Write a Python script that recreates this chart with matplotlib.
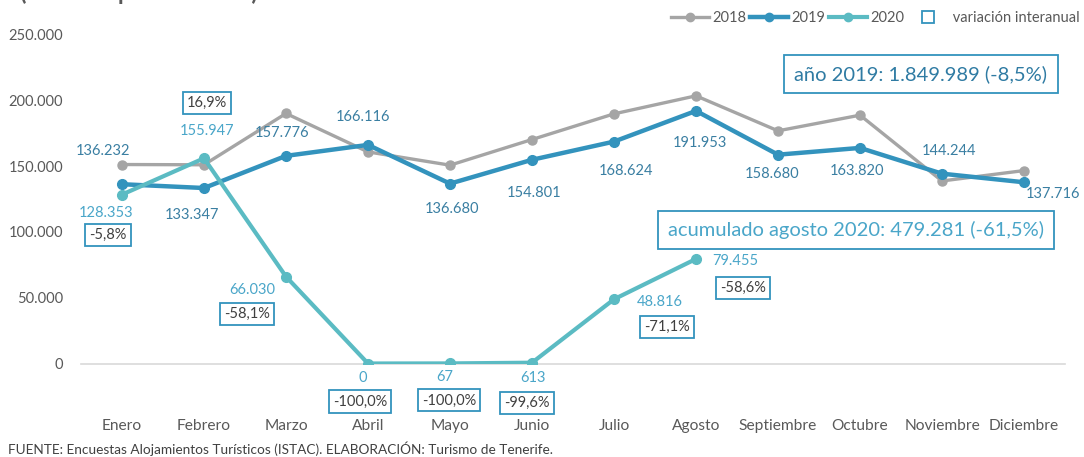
import matplotlib
matplotlib.use('Agg')
import matplotlib.pyplot as plt
from matplotlib.lines import Line2D
from matplotlib.ticker import FuncFormatter

plt.rcParams['font.family'] = ['Lato', 'DejaVu Sans']

# data
meses = ['Enero', 'Febrero', 'Marzo', 'Abril', 'Mayo', 'Junio', 'Julio',
         'Agosto', 'Septiembre', 'Octubre', 'Noviembre', 'Diciembre']
v2018 = [151200, 151000, 190000, 160800, 150700, 170200, 189700, 203400,
         176800, 188700, 138700, 146600]
v2019 = [136232, 133347, 157776, 166116, 136680, 154801, 168624, 191953,
         158680, 163820, 144244, 137716]
v2020 = [128353, 155947, 66030, 0, 67, 613, 48816, 79455]
variacion = ['-5,8%', '16,9%', '-58,1%', '-100,0%', '-100,0%', '-99,6%',
             '-71,1%', '-58,6%']
total_2019 = 'año 2019: 1.849.989 (-8,5%)'
acum_2020 = 'acumulado agosto 2020: 479.281 (-61,5%)'

c18 = '#A5A5A5'
c19 = '#3393BD'
c20 = '#5BBBC3'
lab19 = '#3A7FA2'
lab20 = '#4AA6C9'
txt = '#404040'
grey = '#595959'


def miles(v, pos=None):
    return f'{int(v):,}'.replace(',', '.')


fig = plt.figure(figsize=(10.84, 4.57), dpi=100)
ax = fig.add_axes([81 / 1084, 1 - 363.5 / 457, 984 / 1084, 329 / 457])

x = list(range(12))
ax.plot(x, v2018, color=c18, lw=2.4, marker='o', ms=6.5, zorder=2)
ax.plot(x, v2019, color=c19, lw=3.2, marker='o', ms=7, zorder=3)
ax.plot(x[:len(v2020)], v2020, color=c20, lw=3, marker='o', ms=7, zorder=4)

ax.set_xlim(-0.5, 11.5)
ax.set_ylim(0, 250000)
ax.set_yticks(range(0, 250001, 50000))
ax.yaxis.set_major_formatter(FuncFormatter(miles))
ax.set_xticks(x)
ax.set_xticklabels(meses)
ax.tick_params(axis='both', length=0, colors=grey, labelsize=10.5)
ax.tick_params(axis='x', pad=40, labelsize=11.2)
ax.tick_params(axis='y', pad=13)
for s in ['top', 'right', 'left']:
    ax.spines[s].set_visible(False)
ax.spines['bottom'].set_color('#D9D9D9')
ax.spines['bottom'].set_linewidth(1.2)

# 2019 value labels (offsets in pixels)
off19 = [(-19, 33), (-12, -27), (-4, 23), (-5, 28), (2, -25), (2, -33),
         (12, -29), (4, -32), (-6, -19), (-3, -23), (7, 23), (29, -12)]
for i, v in enumerate(v2019):
    ax.annotate(miles(v), (i, v), xytext=off19[i], textcoords='offset pixels',
                ha='center', va='center', color=lab19, fontsize=10.5)

# 2020 value labels
off20 = [(-16, -18), (3, 27), (-34, -13), (-5, -14), (-5, -14), (1, -15),
         (46, -3), (39, -2)]
for i, v in enumerate(v2020):
    ax.annotate(miles(v), (i, v), xytext=off20[i], textcoords='offset pixels',
                ha='center', va='center', color=lab20, fontsize=10.5)

# variación interanual boxes (centres in pixels relative to 2020 point)
offv = [(-14, -40), (3, 55), (-39, -37), (-8, -38), (-1, -37), (-5, -40),
        (53, -28), (47, -29)]
for i, t in enumerate(variacion):
    ax.annotate(t, (i, v2020[i]), xytext=offv[i], textcoords='offset pixels',
                ha='center', va='center', color=txt, fontsize=10.5,
                bbox=dict(boxstyle='square,pad=0.28', fc='white', ec=c19, lw=1.3))

# totals
fig.text(921 / 1084, 1 - 74 / 457, total_2019, ha='center', va='center',
         color='#2F7BA3', fontsize=14.5,
         bbox=dict(boxstyle='square,pad=0.5', fc='white', ec=c19, lw=1.3))
fig.text(856 / 1084, 1 - 230 / 457, acum_2020, ha='center', va='center',
         color=lab20, fontsize=14.5,
         bbox=dict(boxstyle='square,pad=0.5', fc='white', ec=c19, lw=1.3))

# cut title at the top
fig.text(20 / 1084, 1.0, '(hotel + apartamentos)', ha='left',
         va='baseline', color=grey, fontsize=17, fontweight='bold')

# legend
handles = [Line2D([], [], color=c18, lw=2.4, marker='o', ms=6),
           Line2D([], [], color=c19, lw=3.2, marker='o', ms=6),
           Line2D([], [], color=c20, lw=3, marker='o', ms=6),
           Line2D([], [], ls='none', marker='s', ms=8, mfc='white',
                  mec=c19, mew=1.3)]
fig.legend(handles, ['2018', '2019', '2020', ' variación interanual'],
           loc='center right', bbox_to_anchor=(1080 / 1084, 1 - 18 / 457),
           ncol=4, frameon=False, fontsize=10.5, handlelength=2.6,
           handletextpad=0.2, columnspacing=0.3, labelcolor=grey,
           borderpad=0, borderaxespad=0)

fig.text(8 / 1084, 1 - 449 / 457,
         'FUENTE: Encuestas Alojamientos Turísticos (ISTAC). '
         'ELABORACIÓN: Turismo de Tenerife.',
         ha='left', va='center', color=txt, fontsize=9.8)

fig.savefig('out.png', dpi=100)
